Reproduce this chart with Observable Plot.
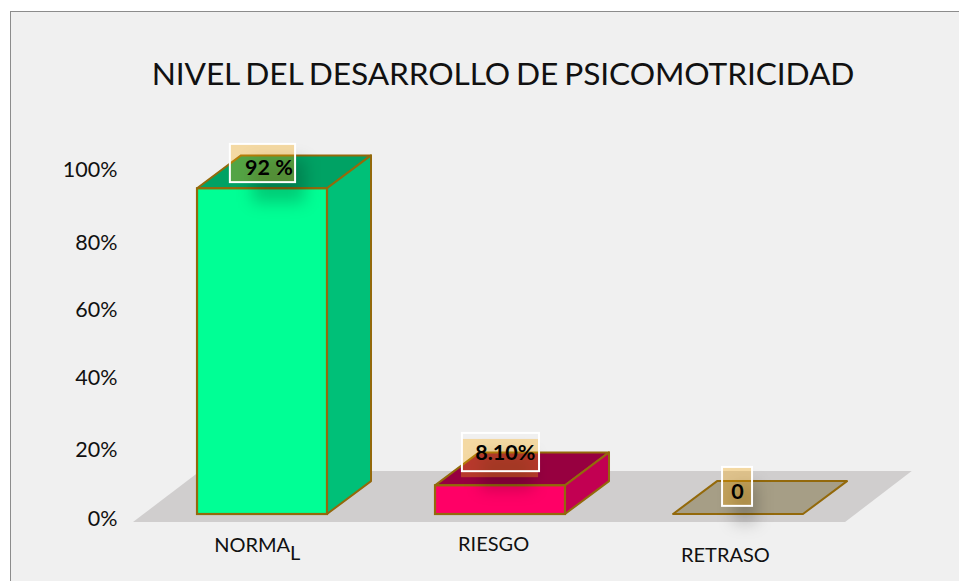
<!DOCTYPE html>
<html><head><meta charset="utf-8">
<script src="https://cdn.jsdelivr.net/npm/d3@7"></script>
<script src="https://cdn.jsdelivr.net/npm/@observablehq/plot@0.6"></script>
<style>
html,body{margin:0;padding:0;background:#fff;width:959px;height:581px;overflow:hidden}
#wrap{position:absolute;left:10px;top:11px;right:0;bottom:0;background:#f0f0f0;border-left:1.5px solid #8c8c8c;border-top:1.5px solid #8c8c8c}
#title{position:absolute;left:0;width:959px;top:50px;text-align:center;padding-left:47px;box-sizing:border-box;font:31.7px Lato,sans-serif;color:#111;white-space:nowrap;letter-spacing:-.1px;word-spacing:-2px;line-height:46px}
#chart{position:absolute;left:0;top:0}
svg{background:transparent!important;overflow:visible}
</style></head><body>
<div id="wrap"></div>
<div id="title">NIVEL DEL DESARROLLO DE PSICOMOTRICIDAD</div>
<div id="chart"></div>
<script>
const categories = ["NORMAL","RIESGO","RETRASO"];
const values = [92,8.1,0];
const labels = ["92 %","8.10%","0"];
const yTicks = [0,20,40,60,80,100];
const yTickDrawnAt = [-1.4,18.1,38.4,57.6,76.8,97.4];
const frontColors = ["#00ff95","#ff0066","#a69e86"];
const sideColors = ["#00c078","#c20052","#a69e86"];
const topColors = ["#00a264","#970040","#a69e86"];

const W=.273, DX=.185, DY=9.3;
const edge="#93690b";
const idx=categories.map((_,i)=>i);

const topFace=idx.flatMap(i=>[
  {i,y:values[i],x1:i-W,x2:i+W,c:topColors[i]},
  {i,y:values[i]+DY,x1:i-W+DX,x2:i+W+DX,c:topColors[i]}]);
const sideFace=idx.flatMap(i=>[
  {i,x:i+W,y1:0,y2:values[i],c:sideColors[i]},
  {i,x:i+W+DX,y1:DY,y2:values[i]+DY,c:sideColors[i]}]).filter(d=>values[d.i]>0);
const front=idx.filter(i=>values[i]>0).map(i=>({i,x1:i-W,x2:i+W,y1:0,y2:values[i],c:frontColors[i]}));
const floor=[{y:-2.26,x1:-.542,x2:2.45},{y:12.15,x1:-.26,x2:2.73}];

// label boxes: centre and half-size in scale units
const boxes=[
 {x:.002,y:99.15,hw:.137,hh:5.4,fx:.002,fy:99.15,tx:.027,ty:97.9,sx:.07,sy:94,sw:.11,sh:6},
 {x:1.002,y:17.5,hw:.162,hh:5.4,fx:.998,fy:15.8,tx:1.02,ty:17.3,sx:1.03,sy:12,sw:.11,sh:5},
 {x:1.996,y:7.8,hw:.063,hh:5.5,fx:1.996,fy:7.8,tx:1.996,ty:6.4,sx:2.03,sy:3,sw:.05,sh:5.5}];
boxes.forEach((b,i)=>b.label=labels[i]);

const axisLabels=[{i:0,x:-.022,y:-8.9},{i:1,x:.971,y:-8.5},{i:2,x:1.945,y:-11.6}];
axisLabels.forEach(d=>d.t=categories[d.i]);

const plot=Plot.plot({
  width:959,height:581,margin:0,marginLeft:117,
  style:{background:"transparent",fontFamily:"Lato, sans-serif",overflow:"visible"},
  x:{type:"linear",domain:[0,2],range:[262,738],axis:null},
  y:{type:"linear",domain:[0,100],range:[514,160],axis:null},
  marks:[
    Plot.areaX(floor,{y:"y",x1:"x1",x2:"x2",fill:"#d0cece"}),
    Plot.areaX(topFace,{y:"y",x1:"x1",x2:"x2",z:"i",fill:"c",stroke:edge,strokeWidth:2,strokeLinejoin:"round"}),
    Plot.areaY(sideFace,{x:"x",y1:"y1",y2:"y2",z:"i",fill:"c",stroke:edge,strokeWidth:2,strokeLinejoin:"round"}),
    Plot.rect(front,{x1:"x1",x2:"x2",y1:"y1",y2:"y2",fill:"c",stroke:edge,strokeWidth:2.2}),
    Plot.rect(boxes,{x1:d=>d.sx-d.sw,x2:d=>d.sx+d.sw,y1:d=>d.sy-d.sh,y2:d=>d.sy+d.sh,fill:"#000",fillOpacity:.2,imageFilter:"blur(8px)"}),
    Plot.rect(boxes,{x1:d=>d.fx-d.hw,x2:d=>d.fx+d.hw,y1:d=>d.fy-d.hh,y2:d=>d.fy+d.hh,fill:"#fbab06",fillOpacity:.33}),
    Plot.rect(boxes,{x1:d=>d.x-d.hw,x2:d=>d.x+d.hw,y1:d=>d.y-d.hh,y2:d=>d.y+d.hh,fill:"none",stroke:"#fff",strokeWidth:2}),
    Plot.text(boxes,{x:"tx",y:"ty",text:"label",fontSize:21.5,fontWeight:700,fill:"#000"}),
    Plot.axisY(yTicks,{y:(d,i)=>yTickDrawnAt[i],text:d=>d+"%",tickSize:0,anchor:"left",textAnchor:"end",fontSize:21.5,fill:"#111",label:null,tickPadding:0}),
    Plot.text(axisLabels,{x:"x",y:"y",text:"t",fontSize:20,fill:"#111",className:"cat"})
  ]
});
document.getElementById("chart").appendChild(plot);
// NORMAL's final letter sits below the line in the reference
plot.querySelectorAll("g.cat text, .cat text").forEach(t=>{
  if(t.textContent==="NORMAL"){
    t.textContent="NORMA";
    const s=document.createElementNS("http://www.w3.org/2000/svg","tspan");
    s.setAttribute("dy","8");s.textContent="L";t.appendChild(s);
  }
});
</script>
</body></html>
